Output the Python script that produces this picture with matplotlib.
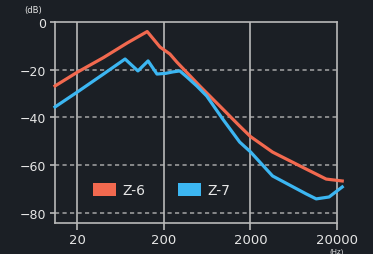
import numpy as np
import matplotlib
matplotlib.use("Agg")
import matplotlib.pyplot as plt
from matplotlib.patches import Patch

# Z-6 (vermelho) e Z-7 (azul): resposta em frequencia
z6_freq = [11, 20, 40, 75, 128, 180, 234, 282, 518, 953, 1500, 2000, 3600, 8800, 15000, 23000]
z6_db = [-26.8, -21.0, -14.9, -8.8, -4.0, -10.5, -13.4, -16.8, -26.8, -36.4, -43.6, -48.0,
         -54.5, -61.6, -65.8, -66.6]

z7_freq = [11, 20, 40, 71, 100, 131, 166, 210, 254, 305, 367, 479, 624, 953, 1500, 2000,
           3600, 8800, 11500, 16200, 23000]
z7_db = [-35.6, -29.3, -21.8, -15.5, -20.5, -16.3, -21.8, -21.5, -20.9, -20.5, -23.0, -26.8,
         -31.0, -40.6, -50.3, -54.4, -64.5, -72.0, -74.1, -73.3, -69.1]

x_ticks = [20, 200, 2000, 20000]
x_labels = ["20", "200", "2000", "20000"]
y_ticks = [0, -20, -40, -60, -80]

bg = "#1b1f25"
fg = "#e6e6e6"
grid = "#b9b9b9"
red = "#f2694f"
blue = "#3cb6f2"

fig = plt.figure(figsize=(3.73, 2.55), dpi=100)
fig.patch.set_facecolor(bg)
ax = fig.add_axes([55/373, 31/255, 282/373, 201/255])
ax.set_facecolor(bg)

ax.set_xscale("log")
ax.set_xlim(11, 20000)
ax.set_ylim(-84.2, 0)

# grade: vertical solida, horizontal tracejada
for xv in x_ticks[:-1]:
    ax.axvline(xv, color=grid, lw=1.2, zorder=1)
for yv in y_ticks[1:]:
    ax.axhline(yv, color=grid, lw=1.2, ls=(0, (2.5, 2)), alpha=0.8, zorder=1)

ax.plot(z6_freq, z6_db, color=red, lw=2.3, solid_joinstyle="round", zorder=5, clip_on=False)
ax.plot(z7_freq, z7_db, color=blue, lw=2.3, solid_joinstyle="round", zorder=5, clip_on=False)

ax.set_xticks(x_ticks)
ax.set_xticklabels(x_labels)
ax.xaxis.set_minor_locator(matplotlib.ticker.NullLocator())
ax.set_yticks(y_ticks)

ax.tick_params(axis="x", colors=grid, length=5, width=1.2, pad=2.2,
               labelcolor=fg, labelsize=9.5)
ax.tick_params(axis="y", colors=grid, length=3.5, width=1.2, pad=3,
               labelcolor=fg, labelsize=9)
for spine in ax.spines.values():
    spine.set_color(grid)
    spine.set_linewidth(1.2)

handles = [Patch(facecolor=red, edgecolor="none", label="Z-6"),
           Patch(facecolor=blue, edgecolor="none", label="Z-7")]
leg = ax.legend(handles=handles, ncol=2, frameon=False, loc="center left",
                bbox_to_anchor=(0.09, 0.164), fontsize=10, handlelength=1.65,
                handleheight=1.1, handletextpad=0.5, columnspacing=2.3)
for t in leg.get_texts():
    t.set_color(fg)

fig.text(33/373, 1 - 10/255, "(dB)", color=fg, fontsize=6, ha="center", va="center")
fig.text(337/373, 1 - 251.5/255, "(Hz)", color=fg, fontsize=5, ha="center", va="center")

fig.savefig("out.png", dpi=100, facecolor=bg)
plt.close(fig)
